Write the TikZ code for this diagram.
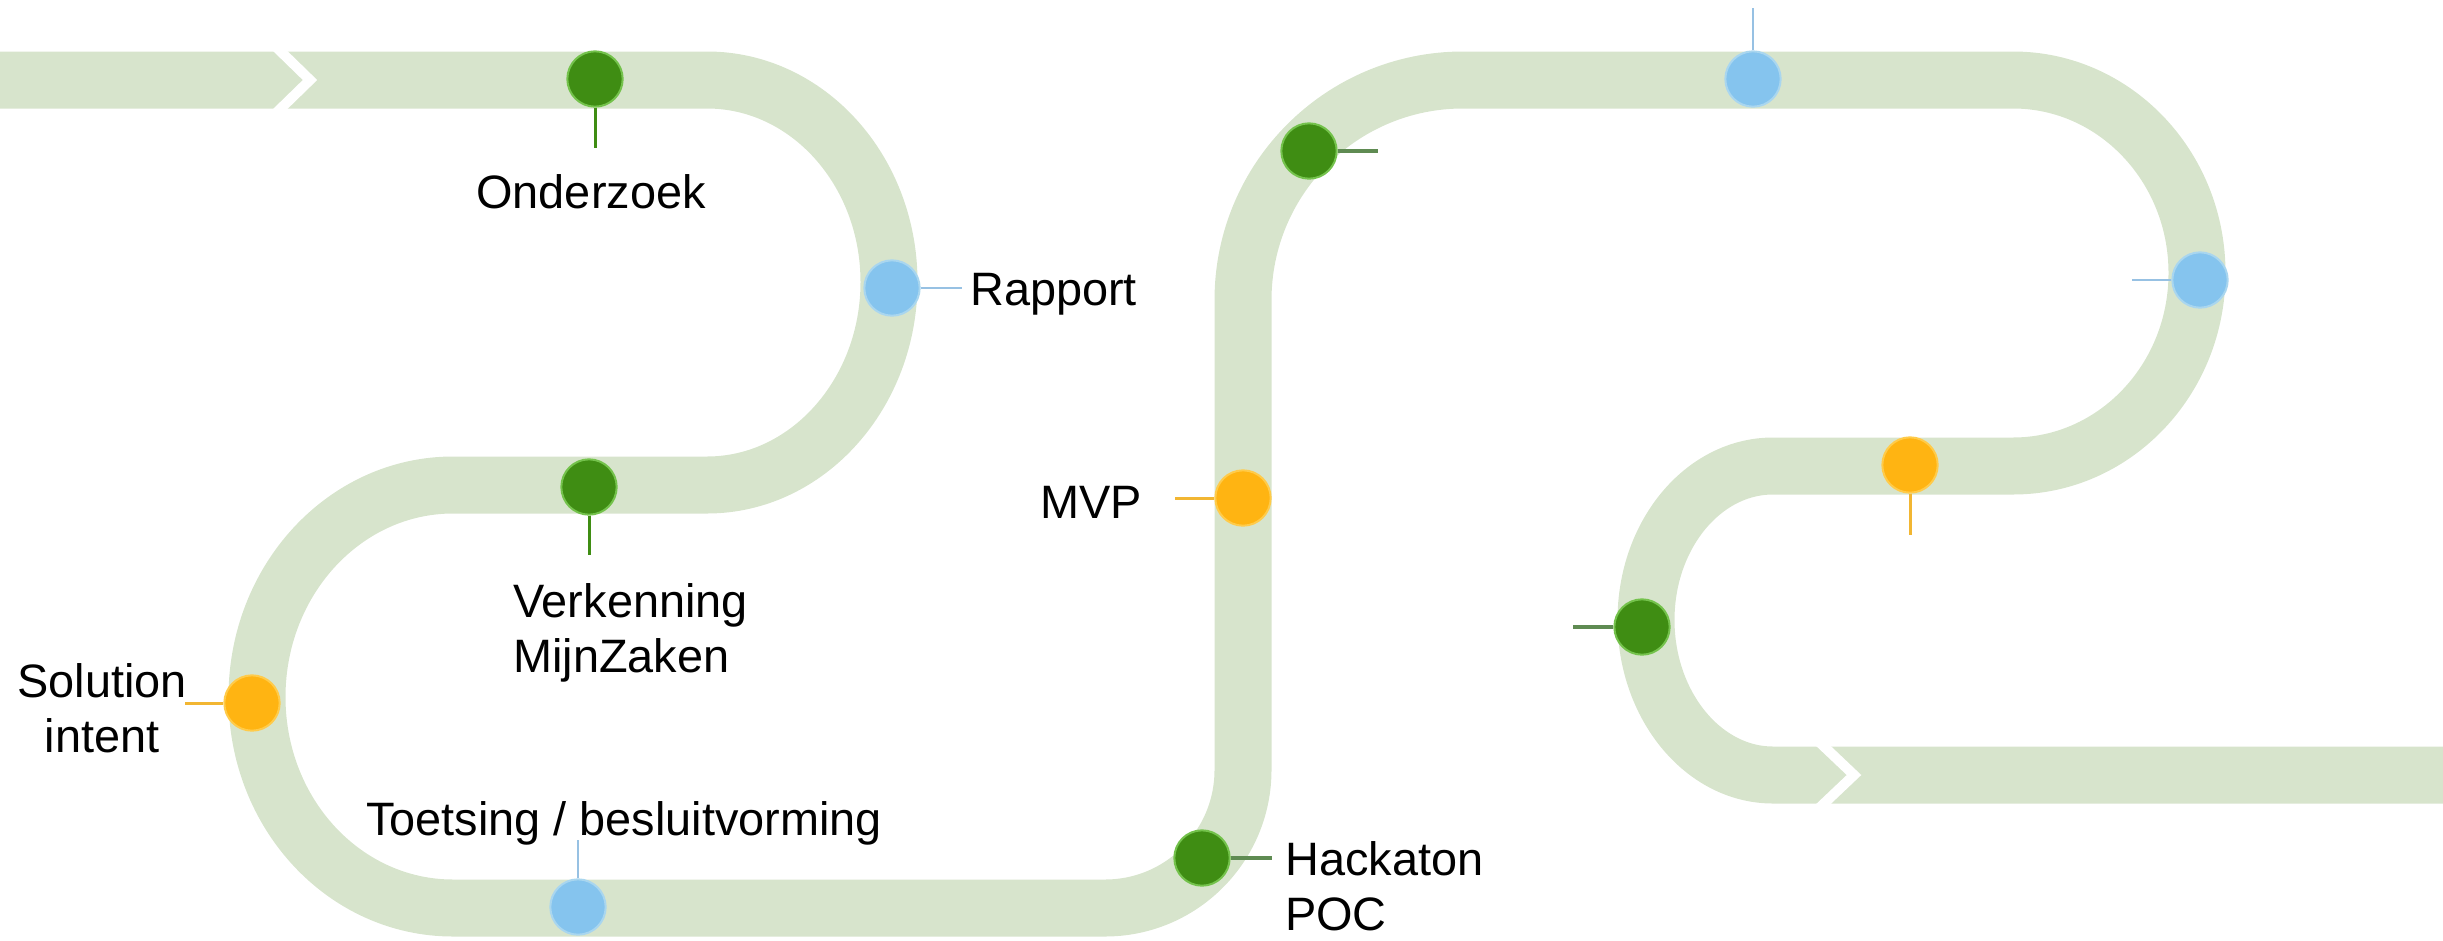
\documentclass[tikz,border=0pt]{standalone}
\usepackage{fontspec}
\setmainfont{Liberation Sans}
\definecolor{bandc}{HTML}{D7E4CC}
\definecolor{dgreen}{HTML}{3F8D13}
\definecolor{dgreenrim}{HTML}{74C24C}
\definecolor{dblue}{HTML}{85C4EE}
\definecolor{dbluerim}{HTML}{A9D6EF}
\definecolor{dorange}{HTML}{FFB412}
\definecolor{dorangerim}{HTML}{FFCB4A}
\definecolor{sgreen}{HTML}{3F8D13}
\definecolor{sgray}{HTML}{5F8B52}
\definecolor{sblue}{HTML}{97C1E3}
\definecolor{sorange}{HTML}{F2B632}
\begin{document}
\begin{tikzpicture}[x=0.03cm,y=-0.03cm,
  dotbase/.style={circle,inner sep=0pt,minimum size=1.66cm,line width=0.06cm},
  gdot/.style={dotbase,fill=dgreen,draw=dgreenrim},
  bdot/.style={dotbase,fill=dblue,draw=dbluerim},
  odot/.style={dotbase,fill=dorange,draw=dorangerim},
  gstem/.style={draw=sgreen,line width=0.09cm},
  graystem/.style={draw=sgray,line width=0.12cm},
  bstem/.style={draw=sblue,line width=0.08cm},
  ostem/.style={draw=sorange,line width=0.09cm},
  lbl/.style={inner sep=0pt,font=\fontsize{40pt}{47pt}\selectfont,text=black},
  chev/.style={draw=white,line width=0.3cm,line join=miter}
]
\useasboundingbox (0,0) rectangle (2443,940);
\clip (0,0) rectangle (2443,940);
% the road
\draw[bandc,line width=1.71cm,line cap=butt,line join=round]
  (-20,80) -- (707,80)
  .. controls (807.5,80) and (889,170.4) .. (889,282)
  .. controls (889,393.6) and (807.5,485) .. (707,485)
  -- (453,485)
  .. controls (344.7,485) and (257,579.9) .. (257,697)
  .. controls (257,814.1) and (344.7,908) .. (453,908)
  -- (1105,908)
  .. controls (1181.2,908) and (1243,846.2) .. (1243,770)
  -- (1243,300)
  .. controls (1243,178.5) and (1341.5,80) .. (1463,80)
  -- (2013,80)
  .. controls (2114.6,80) and (2197,166.4) .. (2197,273)
  .. controls (2197,379.6) and (2114.6,466) .. (2013,466)
  -- (1773,466)
  .. controls (1702.9,466) and (1646,535) .. (1646,620)
  .. controls (1646,705) and (1702.9,775) .. (1773,775)
  -- (2460,775);
% chevrons
\draw[chev] (272,43) -- (310,80) -- (272,117);
\draw[chev] (1815,738) -- (1854,775) -- (1815,812);
% dots
\node[gdot] (d1) at (595,79) {};
\node[bdot] (d2) at (892,288) {};
\node[gdot] (d3) at (589,487) {};
\node[odot] (d4) at (252,703) {};
\node[bdot] (d5) at (578,907) {};
\node[gdot] (d6) at (1202,858) {};
\node[odot] (d7) at (1243,498) {};
\node[gdot] (d8) at (1309,151) {};
\node[bdot] (d9) at (1753,79) {};
\node[bdot] (d10) at (2200,280) {};
\node[odot] (d11) at (1910,465) {};
\node[gdot] (d12) at (1642,627) {};
% stem ends
\coordinate (s1) at (595,148);
\coordinate (s2) at (962,288);
\coordinate (s3) at (589,555);
\coordinate (s4) at (185,703);
\coordinate (s5) at (578,840);
\coordinate (s6) at (1272,858);
\coordinate (s7) at (1175,498);
\coordinate (s8) at (1378,151);
\coordinate (s9) at (1753,8);
\coordinate (s10) at (2132,280);
\coordinate (s11) at (1910,535);
\coordinate (s12) at (1573,627);
% stems
\draw[gstem] (d1.south) -- (s1);
\draw[bstem] (d2.east) -- (s2);
\draw[gstem] (d3.south) -- (s3);
\draw[ostem] (d4.west) -- (s4);
\draw[bstem] (d5.north) -- (s5);
\draw[graystem] (d6.east) -- (s6);
\draw[ostem] (d7.west) -- (s7);
\draw[graystem] (d8.east) -- (s8);
\draw[bstem] (d9.north) -- (s9);
\draw[bstem] (d10.west) -- (s10);
\draw[ostem] (d11.south) -- (s11);
\draw[graystem] (d12.west) -- (s12);
% labels
\node[lbl,anchor=base] (t1) at (591,208) {Onderzoek};
\node[lbl,anchor=base west] (t2) at (970,305) {Rapport};
\node[lbl,anchor=north west,align=left] (t3) at (513,583) {Verkenning\\MijnZaken};
\node[lbl,anchor=north,align=center] (t4) at (102,663) {Solution\\intent};
\node[lbl,anchor=base] (t5) at (624,835) {Toetsing / besluitvorming};
\node[lbl,anchor=north west,align=left] (t6) at (1285,841) {Hackaton\\POC};
\node[lbl,anchor=base east] (t7) at (1142,518) {MVP};
\end{tikzpicture}
\end{document}
